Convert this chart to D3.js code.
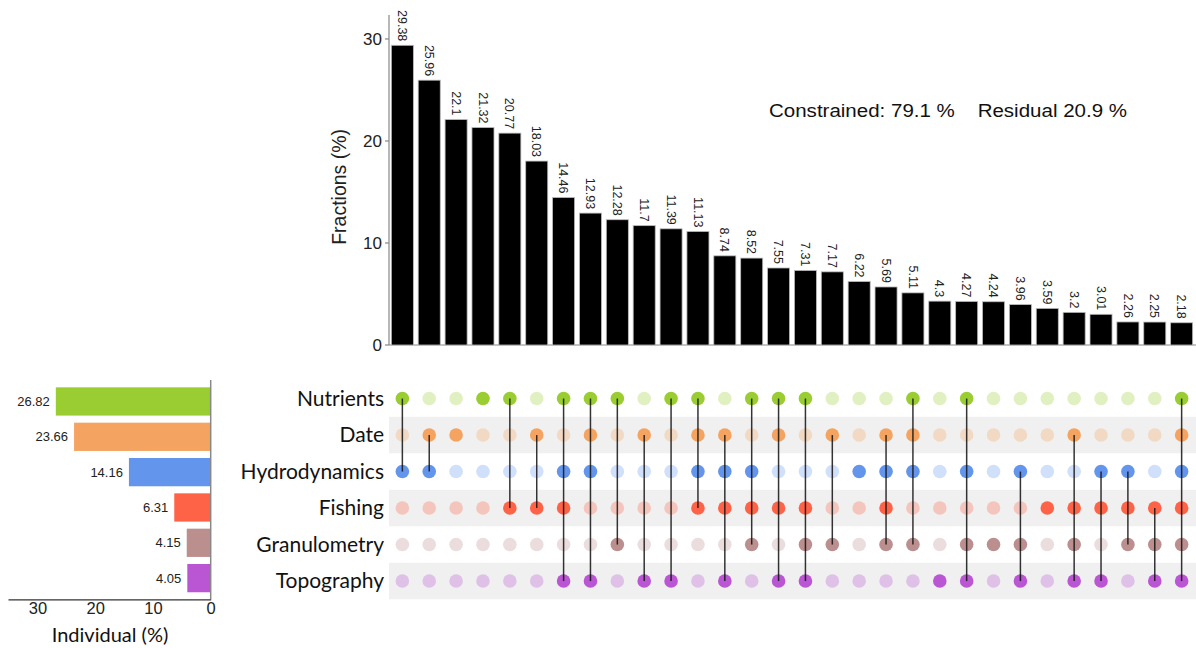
<!DOCTYPE html>
<html>
<head>
<meta charset="utf-8">
<script src="https://cdn.jsdelivr.net/npm/d3@7"></script>
<style>
  body { margin: 0; background: #fff; }
  svg { display: block; }
</style>
</head>
<body>
<svg id="chart" width="1196" height="648"></svg>
<script>
// variable groups (rows of the matrix / left bars)
var sets = ['Nutrients', 'Date', 'Hydrodynamics', 'Fishing', 'Granulometry', 'Topography'];
var individual = [26.82, 23.66, 14.16, 6.31, 4.15, 4.05];
var setColors = ['#9acd32', '#f4a460', '#6495ed', '#ff6347', '#bc8f8f', '#ba55d3'];

// shared fractions, one per combination (columns)
var fractions = [29.38, 25.96, 22.1, 21.32, 20.77, 18.03, 14.46, 12.93, 12.28, 11.7,
  11.39, 11.13, 8.74, 8.52, 7.55, 7.31, 7.17, 6.22, 5.69, 5.11,
  4.3, 4.27, 4.24, 3.96, 3.59, 3.2, 3.01, 2.26, 2.25, 2.18];

var combos = [
  ['Nutrients', 'Hydrodynamics'],
  ['Date', 'Hydrodynamics'],
  ['Date'],
  ['Nutrients'],
  ['Nutrients', 'Fishing'],
  ['Date', 'Fishing'],
  ['Nutrients', 'Hydrodynamics', 'Fishing', 'Topography'],
  ['Nutrients', 'Date', 'Hydrodynamics', 'Topography'],
  ['Nutrients', 'Granulometry'],
  ['Date', 'Topography'],
  ['Nutrients', 'Topography'],
  ['Nutrients', 'Date', 'Hydrodynamics', 'Fishing'],
  ['Date', 'Hydrodynamics', 'Fishing', 'Topography'],
  ['Nutrients', 'Hydrodynamics', 'Fishing', 'Granulometry'],
  ['Nutrients', 'Date', 'Fishing', 'Topography'],
  ['Nutrients', 'Fishing', 'Granulometry', 'Topography'],
  ['Date', 'Granulometry'],
  ['Hydrodynamics'],
  ['Date', 'Hydrodynamics', 'Fishing', 'Granulometry'],
  ['Nutrients', 'Date', 'Hydrodynamics', 'Granulometry'],
  ['Topography'],
  ['Nutrients', 'Hydrodynamics', 'Granulometry', 'Topography'],
  ['Granulometry'],
  ['Hydrodynamics', 'Granulometry', 'Topography'],
  ['Fishing'],
  ['Date', 'Fishing', 'Granulometry', 'Topography'],
  ['Hydrodynamics', 'Fishing', 'Topography'],
  ['Hydrodynamics', 'Fishing', 'Granulometry'],
  ['Fishing', 'Granulometry', 'Topography'],
  ['Nutrients', 'Date', 'Hydrodynamics', 'Fishing', 'Granulometry', 'Topography']
];

var annotation = 'Constrained: 79.1 %    Residual 20.9 %';

var svg = d3.select('#chart');
var axisColor = '#888';
var labelFont = 'Lato, "Noto Sans", sans-serif';
var numFont = '"Liberation Sans", Arial, sans-serif';

var cols = d3.range(fractions.length);
var x = d3.scaleBand().domain(cols).range([390, 1194]).paddingInner(0.18).paddingOuter(0.05);

// ---- top bar chart ----
var y = d3.scaleLinear().domain([0, 32.35]).range([345, 15]);

var topG = svg.append('g');
topG.append('line')
  .attr('x1', 389).attr('x2', 1196)
  .attr('y1', y(0)).attr('y2', y(0))
  .attr('stroke', axisColor).attr('stroke-width', 1.2);
topG.append('line')
  .attr('x1', 389).attr('x2', 389)
  .attr('y1', y(32.35)).attr('y2', y(0))
  .attr('stroke', axisColor).attr('stroke-width', 1.2);

topG.selectAll('.ytick')
  .data([0, 10, 20, 30])
  .enter().append('g')
    .attr('transform', function(d) { return 'translate(389,' + y(d) + ')'; })
    .each(function(d) {
      var g = d3.select(this);
      g.append('line').attr('x1', -4).attr('x2', 0).attr('stroke', axisColor).attr('stroke-width', 1.2);
      g.append('text')
        .attr('x', -7).attr('dy', '0.36em')
        .attr('text-anchor', 'end')
        .style('font-family', numFont).style('font-size', '17px').style('fill', '#222')
        .text(d);
    });

topG.append('text')
  .attr('transform', 'translate(346,' + y(15.5) + ') rotate(-90)')
  .attr('text-anchor', 'middle')
  .style('font-family', numFont).style('font-size', '19.5px').style('fill', '#222')
  .text('Fractions (%)');

topG.selectAll('.bar')
  .data(fractions)
  .enter().append('rect')
    .attr('x', function(d, i) { return x(i); })
    .attr('y', function(d) { return y(d); })
    .attr('width', x.bandwidth())
    .attr('height', function(d) { return y(0) - y(d); })
    .attr('fill', '#000')
    .attr('stroke', '#bbb').attr('stroke-width', 0.8);

topG.selectAll('.val')
  .data(fractions)
  .enter().append('text')
    .attr('transform', function(d, i) {
      return 'translate(' + (x(i) + x.bandwidth() / 2) + ',' + (y(d) - 4) + ') rotate(90)';
    })
    .attr('text-anchor', 'end')
    .attr('dy', '0.35em')
    .style('font-family', numFont).style('font-size', '12.5px').style('fill', '#222')
    .text(function(d) { return d; });

topG.append('text')
  .attr('x', 769).attr('y', 117)
  .attr('textLength', 358)
  .attr('lengthAdjust', 'spacingAndGlyphs')
  .style('font-family', numFont).style('font-size', '17.5px').style('fill', '#111')
  .style('white-space', 'pre')
  .attr('xml:space', 'preserve')
  .text(annotation);

// ---- matrix ----
var rowY = d3.scaleBand().domain(sets).range([380.3, 599.3]);
var rowStep = rowY.bandwidth();

var matrix = svg.append('g');
matrix.selectAll('.stripe')
  .data(sets.filter(function(d, i) { return i % 2 === 1; }))
  .enter().append('rect')
    .attr('x', 389).attr('width', 1196 - 389)
    .attr('y', function(d) { return rowY(d); })
    .attr('height', rowStep)
    .attr('fill', '#f0f0f0');

matrix.selectAll('.rowlab')
  .data(sets)
  .enter().append('text')
    .attr('x', 384)
    .attr('y', function(d) { return rowY(d) + rowStep / 2; })
    .attr('dy', '0.35em')
    .attr('text-anchor', 'end')
    .style('font-family', labelFont).style('font-size', '21px').style('fill', '#111')
    .text(function(d) { return d; });

var cells = [];
combos.forEach(function(c, i) {
  sets.forEach(function(s, j) {
    cells.push({ col: i, set: s, on: c.indexOf(s) >= 0, color: setColors[j] });
  });
});

matrix.selectAll('.dot')
  .data(cells)
  .enter().append('circle')
    .attr('cx', function(d) { return x(d.col) + x.bandwidth() / 2; })
    .attr('cy', function(d) { return rowY(d.set) + rowStep / 2; })
    .attr('r', 6.8)
    .attr('fill', function(d) { return d.color; })
    .attr('fill-opacity', function(d) { return d.on ? 1 : 0.3; });

matrix.selectAll('.link')
  .data(combos.map(function(c, i) { return { col: i, members: c }; })
    .filter(function(d) { return d.members.length > 1; }))
  .enter().append('line')
    .attr('x1', function(d) { return x(d.col) + x.bandwidth() / 2; })
    .attr('x2', function(d) { return x(d.col) + x.bandwidth() / 2; })
    .attr('y1', function(d) { return d3.min(d.members, function(s) { return rowY(s); }) + rowStep / 2; })
    .attr('y2', function(d) { return d3.max(d.members, function(s) { return rowY(s); }) + rowStep / 2; })
    .attr('stroke', '#111').attr('stroke-width', 1.5).attr('stroke-opacity', 0.85);

// ---- left bar chart ----
var xl = d3.scaleLinear().domain([0, 35.1]).range([210.7, 8]);
var yl = d3.scaleBand().domain(sets).range([383.8, 595.8]).paddingInner(0.2).paddingOuter(0.1);

var left = svg.append('g');
left.selectAll('.lbar')
  .data(individual)
  .enter().append('rect')
    .attr('x', function(d) { return xl(d); })
    .attr('y', function(d, i) { return yl(sets[i]); })
    .attr('width', function(d) { return xl(0) - xl(d); })
    .attr('height', yl.bandwidth())
    .attr('fill', function(d, i) { return setColors[i]; });

left.selectAll('.lval')
  .data(individual)
  .enter().append('text')
    .attr('x', function(d) { return xl(d) - 6; })
    .attr('y', function(d, i) { return yl(sets[i]) + yl.bandwidth() / 2; })
    .attr('dy', '0.35em')
    .attr('text-anchor', 'end')
    .style('font-family', numFont).style('font-size', '13px').style('fill', '#222')
    .text(function(d) { return d; });

left.append('line')
  .attr('x1', xl(0)).attr('x2', xl(0))
  .attr('y1', 380).attr('y2', 599.3)
  .attr('stroke', axisColor).attr('stroke-width', 1.5);

var xAxisL = d3.axisBottom(xl).tickValues([0, 10, 20, 30]).tickSize(0).tickPadding(3);
var gl = left.append('g')
  .attr('transform', 'translate(0,599.3)')
  .call(xAxisL);
gl.select('.domain').attr('stroke', '#333').attr('stroke-width', 1.2);
gl.selectAll('text')
  .style('font-family', numFont).style('font-size', '16.5px').style('fill', '#222');

left.append('text')
  .attr('x', 110).attr('y', 642)
  .attr('text-anchor', 'middle')
  .style('font-family', labelFont).style('font-size', '20px').style('fill', '#111')
  .text('Individual (%)');
</script>
</body>
</html>
